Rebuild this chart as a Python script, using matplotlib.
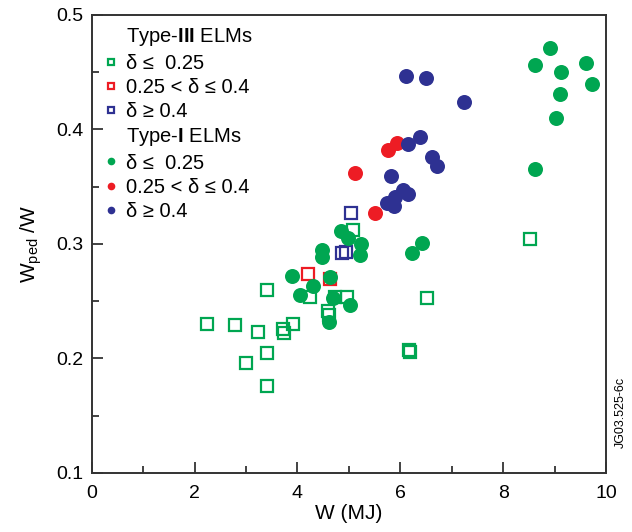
import matplotlib
matplotlib.use("Agg")
import matplotlib.pyplot as plt
from matplotlib.lines import Line2D
from matplotlib.ticker import MultipleLocator

plt.rcParams['font.family'] = ['Liberation Sans', 'DejaVu Sans']
plt.rcParams['mathtext.fontset'] = 'custom'
plt.rcParams['mathtext.rm'] = 'Liberation Sans'
plt.rcParams['mathtext.bf'] = 'Liberation Sans:bold'

GREEN = '#00a651'
RED = '#ed1c24'
BLUE = '#2e3192'

# Type-III ELMs (open squares)
t3_low_x = [2.24, 2.79, 3.24, 3.01, 3.41, 3.41, 3.41, 3.71, 3.73, 3.92, 4.24, 4.73, 4.96,
            4.60, 4.62, 5.09, 8.52, 6.51, 6.19, 6.17]
t3_low_y = [0.230, 0.229, 0.223, 0.196, 0.205, 0.176, 0.260, 0.226, 0.222, 0.230, 0.254, 0.254, 0.254,
            0.241, 0.238, 0.312, 0.304, 0.253, 0.206, 0.207]
t3_mid_x = [4.21, 4.63]
t3_mid_y = [0.274, 0.269]
t3_high_x = [5.04, 4.86, 4.94]
t3_high_y = [0.327, 0.292, 0.293]

# Type-I ELMs (filled circles)
t1_low_x = [8.91, 8.62, 9.12, 9.61, 9.72, 9.11, 9.02, 8.62, 6.42, 6.22,
            3.89, 4.31, 4.05, 4.47, 4.47, 4.63, 4.70, 5.02, 4.62, 4.84, 4.99, 5.24, 5.22]
t1_low_y = [0.471, 0.456, 0.450, 0.458, 0.440, 0.431, 0.410, 0.365, 0.301, 0.292,
            0.272, 0.263, 0.255, 0.295, 0.289, 0.271, 0.253, 0.247, 0.232, 0.311, 0.305, 0.300, 0.290]
t1_mid_x = [5.51, 5.77, 5.93, 5.12]
t1_mid_y = [0.327, 0.382, 0.388, 0.362]
t1_high_x = [6.12, 6.49, 7.24, 6.38, 6.14, 6.61, 6.72, 5.81, 6.05, 6.14, 5.90, 5.74, 5.88]
t1_high_y = [0.447, 0.445, 0.424, 0.393, 0.387, 0.376, 0.368, 0.359, 0.347, 0.344, 0.341, 0.336, 0.333]

fig = plt.figure(figsize=(6.32, 5.32), dpi=100)
ax = fig.add_axes([0.145, 0.111, 0.814, 0.861])

sq = dict(marker='s', linestyle='none', markersize=9.3, markerfacecolor='none', markeredgewidth=1.6)
ci = dict(marker='o', linestyle='none', markersize=10.8, markeredgewidth=0)

ax.plot(t3_low_x, t3_low_y, markeredgecolor=GREEN, **sq)
ax.plot(t3_mid_x, t3_mid_y, markeredgecolor=RED, **sq)
ax.plot(t3_high_x, t3_high_y, markeredgecolor=BLUE, **sq)
ax.plot(t1_low_x, t1_low_y, color=GREEN, **ci)
ax.plot(t1_mid_x, t1_mid_y, color=RED, **ci)
ax.plot(t1_high_x, t1_high_y, color=BLUE, **ci)

ax.set_xlim(0, 10)
ax.set_ylim(0.1, 0.5)
ax.xaxis.set_major_locator(MultipleLocator(2))
ax.xaxis.set_minor_locator(MultipleLocator(1))
ax.yaxis.set_major_locator(MultipleLocator(0.1))
ax.yaxis.set_minor_locator(MultipleLocator(0.05))
ax.tick_params(which='both', direction='in', top=False, right=False, labelsize=14, width=1.2, color='#222222')
ax.tick_params(which='major', length=8)
ax.tick_params(axis='x', which='major', pad=9)
ax.tick_params(axis='y', which='major', pad=6)
ax.tick_params(which='minor', length=5)
ax.xaxis.set_major_formatter(matplotlib.ticker.FuncFormatter(lambda v, p: f"{v:g}"))
ax.yaxis.set_major_formatter(matplotlib.ticker.FuncFormatter(lambda v, p: f"{v:.1f}"))
for s in ax.spines.values():
    s.set_linewidth(1.4)
    s.set_color('#333333')

ax.set_xlabel('W (MJ)', fontsize=15, labelpad=1)
ax.set_ylabel(r'W$_{\rm ped}$ /W', fontsize=15, labelpad=9)

def sqh(c):
    return Line2D([], [], marker='s', linestyle='none', markersize=5, markerfacecolor='white',
                  markeredgecolor=c, markeredgewidth=1.6)

def cih(c):
    return Line2D([], [], marker='o', linestyle='none', markersize=5.5, color=c, markeredgewidth=0)

blank = Line2D([], [], linestyle='none')
handles = [blank, sqh(GREEN), sqh(RED), sqh(BLUE), blank, cih(GREEN), cih(RED), cih(BLUE)]
labels = [r'Type-$\mathbf{III}$ ELMs', 'δ ≤  0.25', '0.25 < δ ≤ 0.4', 'δ ≥ 0.4',
          r'Type-$\mathbf{I}$ ELMs', 'δ ≤  0.25', '0.25 < δ ≤ 0.4', 'δ ≥ 0.4']
leg = ax.legend(handles, labels, loc='upper left', bbox_to_anchor=(0.025, 0.975), frameon=False,
                fontsize=14.5, handlelength=0.6, handletextpad=0.45, labelspacing=0.26, borderaxespad=0,
                borderpad=0)

fig.text(0.982, 0.225, 'JG03.525-6c', rotation=90, fontsize=9, ha='center', va='center')

fig.savefig('out.png', dpi=100)
